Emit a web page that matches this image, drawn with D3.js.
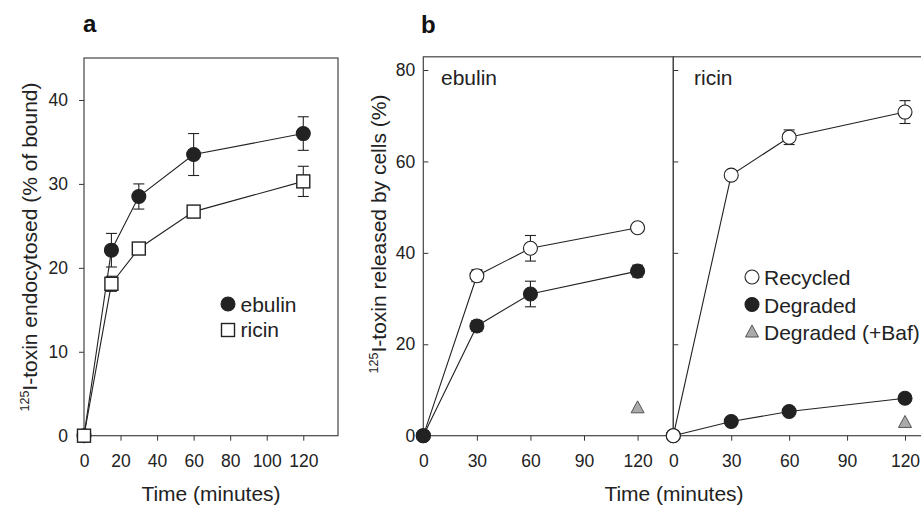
<!DOCTYPE html>
<html lang="en">
<head>
<meta charset="utf-8">
<title>Toxin endocytosis</title>
<script src="https://cdn.jsdelivr.net/npm/d3@7"></script>
<style>
  body { margin: 0; background: #fff; }
  svg { display: block; font-family: "Liberation Sans", Arial, sans-serif; }
  .tick text { font-size: 17.5px; fill: #222; }
  .tick line { stroke: #333; }
  .frame { fill: none; stroke: #444; stroke-width: 1.2; }
</style>
</head>
<body>
<script>
// panel a: endocytosis (% of bound)
const timeA = [0, 15, 30, 60, 120];
const ebulinA = [0, 22.1, 28.5, 33.5, 36.0];
const ebulinAErr = [0, 2.0, 1.5, 2.5, 2.0];
const ricinA = [0, 18.1, 22.3, 26.7, 30.3];
const ricinAErr = [0, 0.9, 0, 0, 1.8];
const ticksAx = [0, 20, 40, 60, 80, 100, 120];
const ticksAy = [0, 10, 20, 30, 40];

// panel b: released by cells (%)
const timeB = [0, 30, 60, 120];
const ebulinRecycled = [0, 35, 41, 45.5];
const ebulinRecycledErr = [0, 1.3, 2.8, 0.8];
const ebulinDegraded = [0, 24, 31, 36];
const ebulinDegradedErr = [0, 1.2, 2.8, 1.3];
const ebulinBaf = [[120, 6.1]];
const ricinRecycled = [0, 57, 65.3, 70.8];
const ricinRecycledErr = [0, 0.8, 1.6, 2.5];
const ricinDegraded = [0, 3.1, 5.3, 8.2];
const ricinDegradedErr = [0, 0.5, 0.6, 0.8];
const ricinBaf = [[120, 2.9]];
const ticksBx = [0, 30, 60, 90, 120];
const ticksBy = [0, 20, 40, 60, 80];

const W = 921, H = 506;
const svg = d3.select("body").append("svg").attr("width", W).attr("height", H);

const ink = "#222";
const bottom = 435.7;
const fs = 21;

function pts(t, v, e) { return t.map((d, i) => ({x: d, y: v[i], e: e ? e[i] : 0})); }

function drawSeries(g, x, y, data, shape, fill) {
  const line = d3.line().x(d => x(d.x)).y(d => y(d.y));
  g.append("path").datum(data).attr("d", line)
    .attr("fill", "none").attr("stroke", ink).attr("stroke-width", 1.1);
  const eb = g.append("g");
  data.filter(d => d.e > 0).forEach(d => {
    const cx = x(d.x), y0 = y(d.y - d.e), y1 = y(d.y + d.e);
    eb.append("line").attr("x1", cx).attr("x2", cx).attr("y1", y0).attr("y2", y1);
    eb.append("line").attr("x1", cx - 5.5).attr("x2", cx + 5.5).attr("y1", y0).attr("y2", y0);
    eb.append("line").attr("x1", cx - 5.5).attr("x2", cx + 5.5).attr("y1", y1).attr("y2", y1);
  });
  eb.selectAll("line").attr("stroke", ink).attr("stroke-width", 1.1);
  drawMarkers(g, data.map(d => [x(d.x), y(d.y)]), shape, fill);
}

function drawMarkers(g, xy, shape, fill) {
  const s = g.selectAll(null).data(xy).enter();
  if (shape === "circle") {
    s.append("circle").attr("cx", d => d[0]).attr("cy", d => d[1]).attr("r", 7)
      .attr("fill", fill).attr("stroke", ink).attr("stroke-width", 1.1);
  } else if (shape === "square") {
    s.append("rect").attr("x", d => d[0] - 6.5).attr("y", d => d[1] - 6.5)
      .attr("width", 13).attr("height", 13)
      .attr("fill", fill).attr("stroke", ink).attr("stroke-width", 1.4);
  } else {
    s.append("path").attr("d", d => `M${d[0]},${d[1] - 7}L${d[0] + 6.5},${d[1] + 5}L${d[0] - 6.5},${d[1] + 5}Z`)
      .attr("fill", fill).attr("stroke", "#555").attr("stroke-width", 1);
  }
}

function yLabel(x, yc, text) {
  const t = svg.append("text")
    .attr("transform", `translate(${x},${yc}) rotate(-90)`)
    .attr("text-anchor", "middle").attr("fill", ink);
  t.append("tspan").attr("font-size", 12.5).attr("dy", -8).text("125");
  t.append("tspan").attr("font-size", fs).attr("dy", 8).text(text);
}

// ---------- panel a ----------
const xA = d3.scaleLinear().domain([0, 139]).range([84, 338]);
const yA = d3.scaleLinear().domain([0, 45]).range([bottom, 58]);

svg.append("g").attr("transform", `translate(0,${bottom})`)
  .call(d3.axisBottom(xA).tickValues(ticksAx).tickSize(5).tickPadding(14).tickSizeOuter(0))
  .call(g => g.select(".domain").remove());
svg.append("g").attr("transform", "translate(84,0)")
  .call(d3.axisLeft(yA).tickValues(ticksAy).tickSize(5).tickPadding(11).tickSizeOuter(0))
  .call(g => g.select(".domain").remove());
svg.append("rect").attr("class", "frame")
  .attr("x", 84).attr("y", 58).attr("width", 338 - 84).attr("height", bottom - 58);

const gA = svg.append("g");
drawSeries(gA, xA, yA, pts(timeA, ebulinA, ebulinAErr), "circle", ink);
drawSeries(gA, xA, yA, pts(timeA, ricinA, ricinAErr), "square", "#fff");

svg.append("text").attr("x", 83).attr("y", 32).attr("font-size", 24)
  .attr("font-weight", "bold").attr("fill", "#111").text("a");
yLabel(37, 247, "I-toxin endocytosed (% of bound)");
svg.append("text").attr("x", 211).attr("y", 501).attr("text-anchor", "middle")
  .attr("font-size", fs).attr("fill", ink).text("Time (minutes)");

// legend a
drawMarkers(svg, [[228, 304]], "circle", ink);
drawMarkers(svg, [[228, 330]], "square", "#fff");
svg.append("text").attr("x", 240.5).attr("y", 311.5).attr("font-size", fs).attr("fill", ink).text("ebulin");
svg.append("text").attr("x", 240.5).attr("y", 337).attr("font-size", fs).attr("fill", ink).text("ricin");

// ---------- panel b ----------
const yB = d3.scaleLinear().domain([0, 83]).range([bottom, 56.3]);
const xB1 = d3.scaleLinear().domain([0, 140]).range([423.3, 673.3]);
const xB2 = d3.scaleLinear().domain([0, 140]).range([673.3, 673.3 + 231.7 / 120 * 140]);

[xB1, xB2].forEach((x, i) => {
  svg.append("g").attr("transform", `translate(0,${bottom})`)
    .call(d3.axisBottom(x).tickValues(ticksBx).tickSize(5).tickPadding(14).tickSizeOuter(0))
    .call(g => g.select(".domain").remove());
  const ya = svg.append("g").attr("transform", `translate(${x.range()[0]},0)`)
    .call(d3.axisLeft(yB).tickValues(ticksBy).tickSize(-5).tickPadding(8).tickSizeOuter(0))
    .call(g => g.select(".domain").remove());
  if (i === 1) ya.selectAll("text").remove();
  svg.append("rect").attr("class", "frame")
    .attr("x", x.range()[0]).attr("y", 56.8)
    .attr("width", x.range()[1] - x.range()[0]).attr("height", bottom - 56.8);
});

const gB1 = svg.append("g");
drawSeries(gB1, xB1, yB, pts(timeB, ebulinRecycled, ebulinRecycledErr), "circle", "#fff");
drawSeries(gB1, xB1, yB, pts(timeB, ebulinDegraded, ebulinDegradedErr), "circle", ink);
drawMarkers(gB1, ebulinBaf.map(d => [xB1(d[0]), yB(d[1])]), "triangle", "#aaa");

const gB2 = svg.append("g");
drawSeries(gB2, xB2, yB, pts(timeB, ricinDegraded, ricinDegradedErr), "circle", ink);
drawSeries(gB2, xB2, yB, pts(timeB, ricinRecycled, ricinRecycledErr), "circle", "#fff");
drawMarkers(gB2, ricinBaf.map(d => [xB2(d[0]), yB(d[1])]), "triangle", "#aaa");

svg.append("text").attr("x", 421).attr("y", 33).attr("font-size", 24)
  .attr("font-weight", "bold").attr("fill", "#111").text("b");
svg.append("text").attr("x", 441).attr("y", 85).attr("font-size", fs).attr("fill", ink).text("ebulin");
svg.append("text").attr("x", 694).attr("y", 85).attr("font-size", fs).attr("fill", ink).text("ricin");
yLabel(386, 234, "I-toxin released by cells (%)");
svg.append("text").attr("x", 674).attr("y", 501).attr("text-anchor", "middle")
  .attr("font-size", fs).attr("fill", ink).text("Time (minutes)");

// legend b
const legB = [["Recycled", "circle", "#fff"], ["Degraded", "circle", ink], ["Degraded (+Baf)", "triangle", "#aaa"]];
legB.forEach((d, i) => {
  const cy = 277 + i * 27.5;
  drawMarkers(svg, [[752, cy]], d[1], d[2]);
  svg.append("text").attr("x", 764).attr("y", cy + 8).attr("font-size", fs).attr("fill", ink).text(d[0]);
});
</script>
</body>
</html>
